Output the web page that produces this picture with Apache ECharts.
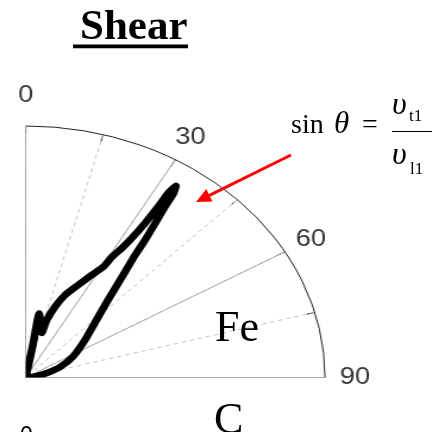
<!DOCTYPE html>
<html>
<head>
<meta charset="utf-8">
<script src="https://cdn.jsdelivr.net/npm/echarts@6/dist/echarts.min.js"></script>
<style>
  html, body { margin: 0; padding: 0; background: #fff; }
  #wrap { position: relative; width: 440px; height: 432px; overflow: hidden; }
  /* the polar plot is drawn as a circle and widened into an ellipse */
  #plot { position: absolute; left: 0; top: 0; width: 370px; height: 432px;
          transform: scaleX(1.19); transform-origin: 0 0; }
  #notes { position: absolute; left: 0; top: 0; width: 440px; height: 432px; }
</style>
</head>
<body>
<div id="wrap"><div id="plot"></div><div id="notes"></div></div>
<script>
// Angle tick labels (degrees from the vertical axis)
const angleTicks = [0, 30, 60, 90];

// Shear wave curve: radius (normalised) and angle (degrees) of each traced point
const curveRadius = [0, 0.13, 0.258, 0.185, 0.239, 0.298, 0.353, 0.408, 0.463, 0.511,
  0.558, 0.606, 0.657, 0.731, 0.811, 0.876, 0.912, 0.883, 0.823, 0.750,
  0.677, 0.609, 0.536, 0.464, 0.392, 0.333, 0.248, 0.179, 0.122, 0.073, 0.031, 0];
const curveAngle = [10, 10.5, 10.1, 16.8, 17.1, 19.2, 21.8, 25.5, 28.4, 30.5,
  31.0, 32.0, 32.6, 33.0, 33.1, 33.0, 33.4, 34.0, 34.4, 35.2,
  36.1, 36.9, 38.3, 40.1, 42.6, 45.7, 53.0, 62.1, 70.0, 75.9, 82.7, 90];

const curveData = curveRadius.map((r, i) => [r, curveAngle[i]]);

// tick labels sit just outside the outer arc, centred on their angle;
// the label on the vertical axis is lifted a little further
const labelRadius = 1.1;
const tickLabelData = angleTicks.map(a => (
  a === 0 ? { value: [labelRadius, a], label: { offset: [0, -5] } } : { value: [labelRadius, a] }
));

const plot = echarts.init(document.getElementById('plot'));
const center = [21.6, 377.5];
const radius = 251.5;

plot.setOption({
  animation: false,
  polar: [
    { center: center, radius: radius },
    { center: center, radius: radius }
  ],
  angleAxis: [
    {
      polarIndex: 0, type: 'value', min: 0, max: 90, interval: 15,
      startAngle: 90, endAngle: 0, clockwise: true,
      axisLine: { show: true, lineStyle: { color: '#222', width: 1 } },
      axisTick: { show: true, inside: true, length: 7, lineStyle: { color: '#222', width: 1 } },
      axisLabel: { show: false },
      splitLine: { show: true, lineStyle: { color: '#c4c4c4', width: 1, type: [4, 3] } }
    },
    {
      polarIndex: 1, type: 'value', min: 0, max: 90, interval: 30,
      startAngle: 90, endAngle: 0, clockwise: true,
      axisLine: { show: false },
      axisTick: { show: false },
      axisLabel: { show: false },
      splitLine: { show: true, lineStyle: { color: '#a8a8a8', width: 1 } }
    }
  ],
  radiusAxis: [
    { polarIndex: 0, type: 'value', min: 0, max: 1, show: false, splitLine: { show: false } },
    { polarIndex: 1, type: 'value', min: 0, max: 1, show: false, splitLine: { show: false } }
  ],
  series: [
    {
      type: 'line',
      coordinateSystem: 'polar',
      polarIndex: 1,
      data: curveData,
      symbol: 'none',
      smooth: 0.2,
      z: 3,
      lineStyle: { color: '#000', width: 6.5, join: 'round', cap: 'round' }
    },
    {
      type: 'scatter',
      coordinateSystem: 'polar',
      polarIndex: 1,
      data: tickLabelData,
      clip: false,
      symbol: 'circle',
      symbolSize: 1,
      itemStyle: { color: 'rgba(0,0,0,0)' },
      silent: true,
      label: {
        show: true, position: 'inside', fontSize: 23, fontFamily: 'Liberation Sans',
        color: '#000', formatter: p => String(p.value[1])
      }
    }
  ]
});

// Title, material labels, formula and pointer arrow
const notes = echarts.init(document.getElementById('notes'));
const serif = 'Liberation Serif, Times New Roman, serif';
notes.setOption({
  animation: false,
  graphic: [
    { type: 'text', x: 80, y: 28, style: { text: 'Shear', font: 'bold 43px ' + serif, fill: '#000', verticalAlign: 'middle' } },
    { type: 'rect', shape: { x: 73, y: 44.5, width: 115, height: 3.8 }, style: { fill: '#000' } },
    { type: 'text', x: 215, y: 329, style: { text: 'Fe', font: '44px ' + serif, fill: '#000', verticalAlign: 'middle' } },
    { type: 'text', x: 214, y: 421, style: { text: 'C', font: '44px ' + serif, fill: '#000', verticalAlign: 'middle' } },
    { type: 'text', x: 20, y: 437, style: { text: '0', font: '23px Liberation Sans, sans-serif', fill: '#000', verticalAlign: 'middle' } },

    { type: 'text', x: 291, y: 126, style: { text: 'sin', font: '28px ' + serif, fill: '#000', verticalAlign: 'middle' } },
    { type: 'text', x: 334, y: 125, style: { text: 'θ', font: 'italic 31px ' + serif, fill: '#000', verticalAlign: 'middle' } },
    { type: 'text', x: 362, y: 126, style: { text: '=', font: '28px ' + serif, fill: '#000', verticalAlign: 'middle' } },
    { type: 'line', shape: { x1: 392, y1: 131.5, x2: 432, y2: 131.5 }, style: { stroke: '#000', lineWidth: 1.2 } },
    { type: 'text', x: 392, y: 106, style: { text: 'υ', font: 'italic 32px ' + serif, fill: '#000', verticalAlign: 'middle' } },
    { type: 'text', x: 409, y: 117, style: { text: 't1', font: '17px ' + serif, fill: '#000', verticalAlign: 'middle' } },
    { type: 'text', x: 392, y: 156, style: { text: 'υ', font: 'italic 32px ' + serif, fill: '#000', verticalAlign: 'middle' } },
    { type: 'text', x: 410, y: 170, style: { text: 'l1', font: '17px ' + serif, fill: '#000', verticalAlign: 'middle' } },

    { type: 'line', shape: { x1: 291, y1: 155, x2: 209.4, y2: 195.3 }, style: { stroke: '#ff0000', lineWidth: 3 } },
    { type: 'polygon', shape: { points: [[196, 202], [212.5, 201.6], [206.3, 189]] }, style: { fill: '#ff0000' } }
  ]
});
</script>
</body>
</html>
